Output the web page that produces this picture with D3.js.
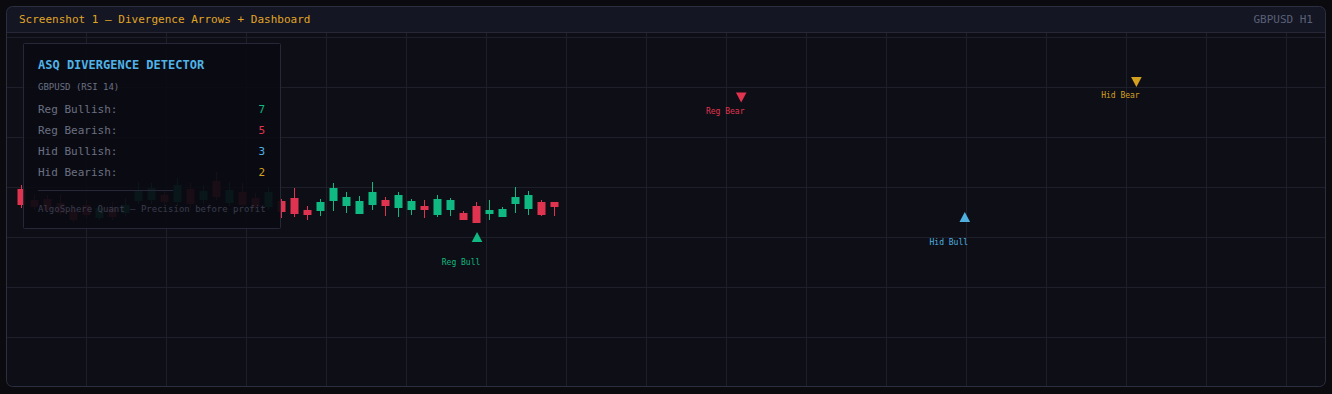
<!DOCTYPE html>
<html>
<head>
<meta charset="utf-8">
<script src="https://cdn.jsdelivr.net/npm/d3@7"></script>
<style>
  html, body { margin: 0; padding: 0; background: #0a0a0f; }
  svg { display: block; font-family: 'DejaVu Sans Mono', monospace; }
</style>
</head>
<body>
<script>
// GBPUSD H1 candles
const opens  = [1.2711, 1.2700, 1.2701, 1.2697, 1.2690, 1.2695, 1.2682, 1.2693, 1.2687, 1.2699,
                1.2700, 1.2705, 1.2698, 1.2711, 1.2700, 1.2719, 1.2697, 1.2708, 1.2702, 1.2693,
                1.2699, 1.2702, 1.2690, 1.2689, 1.2699, 1.2694, 1.2686, 1.2695, 1.2700, 1.2692,
                1.2690, 1.2694, 1.2685, 1.2690, 1.2687, 1.2694, 1.2686, 1.2683, 1.2696, 1.2691,
                1.2698, 1.2698];
const highs  = [1.2715, 1.2705, 1.2705, 1.2705, 1.2695, 1.2700, 1.2695, 1.2698, 1.2702, 1.2718,
                1.2717, 1.2710, 1.2722, 1.2717, 1.2715, 1.2728, 1.2718, 1.2717, 1.2707, 1.2713,
                1.2701, 1.2712, 1.2694, 1.2701, 1.2717, 1.2708, 1.2704, 1.2718, 1.2703, 1.2708,
                1.2701, 1.2700, 1.2705, 1.2702, 1.2689, 1.2698, 1.2700, 1.2693, 1.2713, 1.2709,
                1.2700, 1.2698];
const lows   = [1.2692, 1.2690, 1.2688, 1.2685, 1.2678, 1.2682, 1.2680, 1.2680, 1.2684, 1.2696,
                1.2696, 1.2695, 1.2694, 1.2692, 1.2696, 1.2700, 1.2694, 1.2692, 1.2690, 1.2690,
                1.2682, 1.2683, 1.2680, 1.2684, 1.2689, 1.2687, 1.2686, 1.2690, 1.2684, 1.2683,
                1.2685, 1.2682, 1.2683, 1.2684, 1.2680, 1.2677, 1.2680, 1.2683, 1.2687, 1.2685,
                1.2684, 1.2684];
const closes = [1.2695, 1.2693, 1.2690, 1.2687, 1.2680, 1.2685, 1.2692, 1.2683, 1.2695, 1.2709,
                1.2712, 1.2698, 1.2715, 1.2696, 1.2709, 1.2703, 1.2710, 1.2695, 1.2693, 1.2708,
                1.2688, 1.2686, 1.2685, 1.2698, 1.2712, 1.2703, 1.2699, 1.2708, 1.2694, 1.2705,
                1.2699, 1.2690, 1.2701, 1.2700, 1.2680, 1.2677, 1.2690, 1.2691, 1.2703, 1.2705,
                1.2685, 1.2693];

// divergence markers: bar position, price, direction
const markerLabels = ['Reg Bull', 'Reg Bear', 'Hid Bull', 'Hid Bear'];
const markerBars   = [35.08, 55.4, 72.6, 85.8];
const markerPrices = [1.2663, 1.28025, 1.2683, 1.2818];
const markerUp     = [true, false, true, false];
const markerColors = ['#10b981', '#e0334f', '#4fb0e0', '#d4a020'];

// dashboard counts
const statLabels = ['Reg Bullish:', 'Reg Bearish:', 'Hid Bullish:', 'Hid Bearish:'];
const statValues = [7, 5, 3, 2];

const W = 1332, H = 394;
const up = '#10b981', down = '#e0334f';

const svg = d3.select('body').append('svg').attr('width', W).attr('height', H);

svg.append('rect').attr('width', W).attr('height', H).attr('fill', '#0a0a0f');

const clip = svg.append('defs').append('clipPath').attr('id', 'card');
clip.append('rect').attr('x', 6.5).attr('y', 6.5).attr('width', 1319).attr('height', 380).attr('rx', 6);

const card = svg.append('g').attr('clip-path', 'url(#card)');
card.append('rect').attr('x', 6.5).attr('y', 6.5).attr('width', 1319).attr('height', 380).attr('fill', '#0e0f16');
card.append('rect').attr('x', 6.5).attr('y', 6.5).attr('width', 1319).attr('height', 26).attr('fill', '#141623');

// grid
const grid = card.append('g').attr('stroke', '#1d1f2b').attr('stroke-width', 1);
grid.selectAll('line.v').data(d3.range(86, 1326, 80)).enter().append('line')
  .attr('x1', d => d + 0.5).attr('x2', d => d + 0.5).attr('y1', 32.5).attr('y2', 387);
grid.selectAll('line.h').data(d3.range(37, 387, 50)).enter().append('line')
  .attr('x1', 6).attr('x2', 1326).attr('y1', d => d + 0.5).attr('y2', d => d + 0.5);
card.append('line').attr('x1', 6).attr('x2', 1326).attr('y1', 32.5).attr('y2', 32.5)
  .attr('stroke', '#262838');

svg.append('rect').attr('x', 6.5).attr('y', 6.5).attr('width', 1319).attr('height', 380).attr('rx', 6)
  .attr('fill', 'none').attr('stroke', '#2c2e42');

// header
svg.append('text').attr('x', 19).attr('y', 23).attr('fill', '#e0a526').attr('font-size', 11)
  .text('Screenshot 1 \u2014 Divergence Arrows + Dashboard');
svg.append('text').attr('x', 1313).attr('y', 23).attr('text-anchor', 'end').attr('fill', '#5a6078')
  .attr('font-size', 11).text('GBPUSD H1');

// scales
const x = d3.scaleLinear().domain([0, 100]).range([21, 1321]);
const y = d3.scaleLinear().domain([1.2650, 1.2750]).range([250, 150]);

const candles = opens.map((o, i) => ({ i, o, h: highs[i], l: lows[i], c: closes[i] }));
const cg = card.append('g');
cg.selectAll('line.wick').data(candles).enter().append('line')
  .attr('x1', d => Math.round(x(d.i)) + 0.5).attr('x2', d => Math.round(x(d.i)) + 0.5)
  .attr('y1', d => y(d.h)).attr('y2', d => y(d.l))
  .attr('stroke', d => d.c >= d.o ? up : down);
cg.selectAll('rect.body').data(candles).enter().append('rect')
  .attr('x', d => Math.round(x(d.i)) - 3.5)
  .attr('width', 8)
  .attr('y', d => y(Math.max(d.o, d.c)))
  .attr('height', d => Math.max(1, y(Math.min(d.o, d.c)) - y(Math.max(d.o, d.c))))
  .attr('fill', d => d.c >= d.o ? up : down);

// markers
const markers = markerLabels.map((m, k) => ({ m, b: markerBars[k], p: markerPrices[k], up: markerUp[k], col: markerColors[k] }));
const mg = card.append('g');
mg.selectAll('path').data(markers).enter().append('path')
  .attr('transform', d => `translate(${x(d.b)},${y(d.p)})`)
  .attr('d', d => d.up ? 'M0,-5L5.3,5L-5.3,5Z' : 'M0,5L5.3,-5L-5.3,-5Z')
  .attr('fill', d => d.col);
mg.selectAll('text').data(markers).enter().append('text')
  .attr('x', d => x(d.b) - 16)
  .attr('y', d => y(d.p) + (d.up ? 25 : 13.5))
  .attr('dy', '0.35em')
  .attr('text-anchor', 'middle')
  .attr('font-size', 8)
  .attr('fill', d => d.col)
  .text(d => d.m);

// dashboard panel
const panel = svg.append('g');
panel.append('rect').attr('x', 23.5).attr('y', 43.5).attr('width', 257).attr('height', 185).attr('rx', 1)
  .attr('fill', '#0a0b12').attr('fill-opacity', 0.93).attr('stroke', '#262839');
panel.append('text').attr('x', 38).attr('y', 69).attr('fill', '#4fb3e8').attr('font-size', 12)
  .attr('font-weight', 'bold').text('ASQ DIVERGENCE DETECTOR');
panel.append('text').attr('x', 38).attr('y', 90).attr('fill', '#6b7083').attr('font-size', 9)
  .text('GBPUSD (RSI 14)');
statLabels.forEach((s, k) => {
  panel.append('text').attr('x', 38).attr('y', 113 + k * 21).attr('fill', '#6b7083').attr('font-size', 11).text(s);
  panel.append('text').attr('x', 265).attr('y', 113 + k * 21).attr('text-anchor', 'end')
    .attr('fill', markerColors[k]).attr('font-size', 11).text(statValues[k]);
});
panel.append('line').attr('x1', 38).attr('x2', 173).attr('y1', 190.5).attr('y2', 190.5).attr('stroke', '#262839');
panel.append('text').attr('x', 38).attr('y', 212).attr('fill', '#3a3d4e').attr('font-size', 9)
  .text('AlgoSphere Quant \u2014 Precision before profit');
</script>
</body>
</html>
